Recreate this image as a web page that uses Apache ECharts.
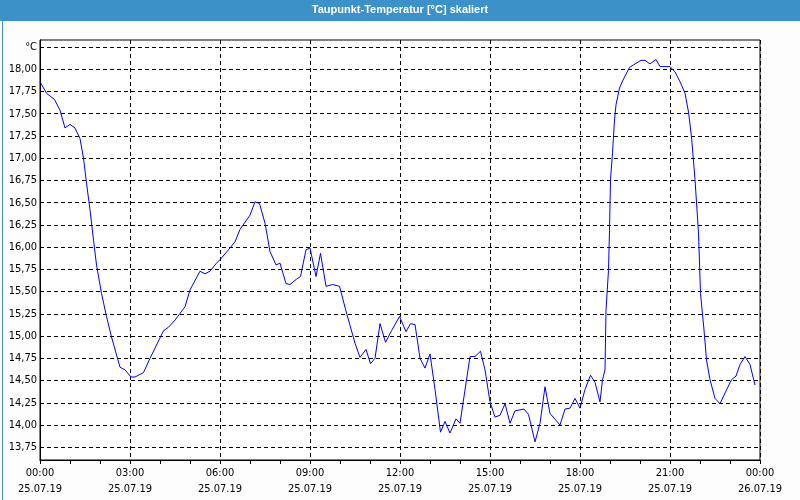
<!DOCTYPE html>
<html>
<head>
<meta charset="utf-8">
<script src="https://cdn.jsdelivr.net/npm/echarts@6/dist/echarts.min.js"></script>
<style>
html,body{margin:0;padding:0;background:#fcfdfc;}
#c{width:800px;height:500px;}
</style>
</head>
<body>
<div id="c"></div>
<script>
// time in minutes since 25.07.19 00:00
var times = [0,13,29,40,50,60,70,80,87,93,100,107,113,123,133,143,155,160,170,182,190,207,220,247,257,270,290,300,320,330,340,353,360,377,390,400,410,420,430,439,450,460,472,480,492,500,513,521,532,540,552,561,572,585,599,613,630,640,652,661,670,680,691,703,719,732,741,750,760,770,780,790,801,810,820,832,840,860,870,881,890,900,910,920,930,940,950,968,977,990,1000,1010,1020,1040,1050,1060,1070,1080,1090,1101,1110,1120,1125,1130,1132,1137,1139,1141,1145,1149,1152,1159,1167,1179,1190,1202,1210,1220,1232,1240,1260,1270,1280,1290,1297,1303,1310,1317,1321,1328,1333,1340,1350,1360,1370,1383,1392,1400,1410,1420,1430];
var dewpoint = [17.86,17.73,17.66,17.54,17.34,17.38,17.34,17.22,17.00,16.72,16.42,16.08,15.80,15.48,15.22,14.99,14.75,14.65,14.62,14.54,14.54,14.59,14.75,15.06,15.10,15.18,15.33,15.52,15.73,15.70,15.73,15.82,15.86,15.97,16.06,16.20,16.28,16.36,16.51,16.49,16.27,15.95,15.80,15.82,15.59,15.58,15.64,15.67,15.97,15.99,15.67,15.93,15.56,15.58,15.56,15.26,14.92,14.76,14.85,14.69,14.75,15.14,14.93,15.06,15.22,15.05,15.14,15.13,14.75,14.64,14.80,14.40,13.92,14.04,13.91,14.07,14.02,14.77,14.77,14.83,14.62,14.26,14.09,14.11,14.24,14.02,14.16,14.18,14.12,13.81,14.02,14.43,14.13,14.00,14.18,14.19,14.30,14.19,14.40,14.56,14.48,14.26,14.51,14.62,15.29,15.74,16.19,16.76,17.06,17.43,17.60,17.79,17.89,18.02,18.06,18.10,18.10,18.06,18.11,18.03,18.03,17.97,17.86,17.73,17.52,17.24,16.76,16.16,15.48,15.07,14.73,14.51,14.30,14.24,14.36,14.51,14.55,14.68,14.77,14.68,14.45];
var yTicks = [13.75,14.00,14.25,14.50,14.75,15.00,15.25,15.50,15.75,16.00,16.25,16.50,16.75,17.00,17.25,17.50,17.75,18.00,18.25];
var unitLabel = '°C';
var titleText = 'Taupunkt-Temperatur [°C] skaliert';
var xHours = ['00:00','03:00','06:00','09:00','12:00','15:00','18:00','21:00','00:00'];
var xDates = ['25.07.19','25.07.19','25.07.19','25.07.19','25.07.19','25.07.19','25.07.19','25.07.19','26.07.19'];

var FONT = "'Liberation Sans Narrow','DejaVu Sans Condensed','Liberation Sans',sans-serif";
var pts = times.map(function(t,i){return [t, dewpoint[i]];});
var chart = echarts.init(document.getElementById('c'), null, {renderer:'canvas'});
chart.setOption({
  animation:false,
  backgroundColor:'#fcfdfc',
  graphic:[
    {type:'rect', left:0, top:0, shape:{width:800,height:21}, style:{fill:'#3c91c9'}, z:10},
    {type:'rect', left:0, top:0, shape:{x:0.5,y:0.5,width:799,height:499}, style:{fill:null, stroke:'#3c91c9', lineWidth:1}, z:10},
    {type:'text', left:'center', top:4, style:{text:titleText, fill:'#ffffff', font:"bold 11px 'Liberation Sans',sans-serif"}, z:11}
  ],
  grid:{left:40,right:40,top:40,bottom:40,show:true,backgroundColor:'#ffffff',borderColor:'#000',borderWidth:1},
  xAxis:{
    type:'value', min:0, max:1440, interval:180,
    axisLine:{lineStyle:{color:'#000',width:1}},
    axisTick:{show:true, length:4, lineStyle:{color:'#000',width:1}},
    minorTick:{show:true, splitNumber:3, length:4, lineStyle:{color:'#000',width:1}},
    splitLine:{show:true, lineStyle:{color:'#000', type:[4,3], width:1}},
    axisLabel:{
      color:'#000', fontFamily:FONT, fontSize:11, lineHeight:16, margin:5,
      formatter:function(v){var i=Math.round(v/180); return xHours[i]+'\n'+xDates[i];}
    }
  },
  yAxis:{
    type:'value', min:13.607, max:18.329,
    axisLine:{show:true, lineStyle:{color:'#000',width:1}},
    axisTick:{show:false, customValues:yTicks},
    splitLine:{show:true, lineStyle:{color:'#000', type:[4,3], width:1}},
    axisLabel:{
      customValues:yTicks,
      color:'#000', fontFamily:FONT, fontSize:11, margin:3,
      formatter:function(v){ if (Math.abs(v-18.25)<1e-6) return unitLabel; return v.toFixed(2).replace('.',','); }
    }
  },
  series:[{
    type:'line', data:pts, showSymbol:false, symbol:'none',
    lineStyle:{color:'#0000ff', width:1}, itemStyle:{color:'#0000ff'}
  }]
});
</script>
</body>
</html>
